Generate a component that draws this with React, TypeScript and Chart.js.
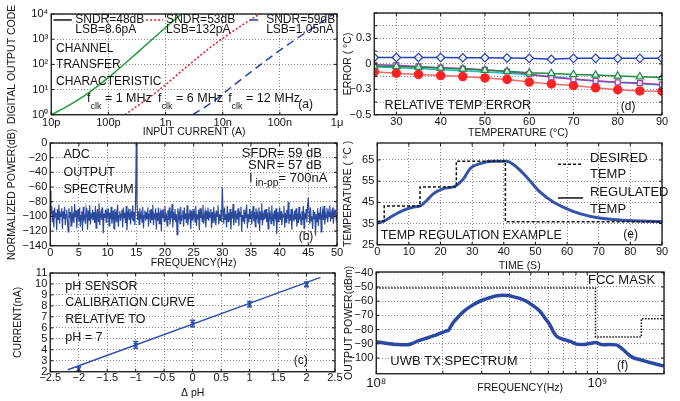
import React, { useEffect, useRef } from "react";
import { Chart, registerables } from "chart.js";

Chart.register(...registerables);

const FONT = '"Liberation Sans", Arial, sans-serif';
const INK = "#141414";
const GRID = "#8a8a8a";

// ---------- (a) channel transfer characteristic ----------
const A_X_TICKS = [1e-11, 1e-10, 1e-9, 1e-8, 1e-7, 1e-6];
const A_X_LABELS = ["10p", "100p", "1n", "10n", "100n", "1μ"];
const A_Y_TICKS = [1, 10, 100, 1000, 10000];
const A_Y_LABELS = ["10⁰", "10¹", "10²", "10³", "10⁴"];
const A_GREEN_I = [1e-11, 1.8e-11, 3.6e-11, 1.2e-10, 3.6e-10, 1.05e-9, 1.9e-9];
const A_GREEN_CODE = [1, 2.0, 5.2, 42, 370, 3200, 10000];
const A_RED_I = [1.95e-10, 7.1e-10, 2.35e-9, 6.9e-9, 2.0e-8, 4.4e-8];
const A_RED_CODE = [1, 8.3, 81, 590, 3150, 10000];
const A_BLUE_I = [3.0e-9, 6.9e-9, 1.35e-8, 5.9e-8, 1.5e-7, 5.0e-7, 8.7e-7];
const A_BLUE_CODE = [1, 3.4, 11.5, 150, 690, 4300, 10000];

// ---------- (b) ADC output spectrum ----------
const B_X_TICKS = [0, 5, 10, 15, 20, 25, 30, 35, 40, 45, 50];
const B_X_LABELS = ["0", "5", "10", "15", "20", "25", "30", "35", "40", "45", "50"];
const B_Y_TICKS = [-140, -120, -100, -80, -60, -40, -20, 0];
const B_Y_LABELS = ["−140", "−120", "−100", "−80", "−60", "−40", "−20", "0"];
const B_BIN_HZ = 0.125;
const B_POWER = [
  -65, -97, -86, -108, -92, -115, -88, -101, -95, -119, -90, -104, -84, -110, -96, -100, -89, -117, -93, -103,
  -87, -112, -98, -91, -106, -121, -89, -102, -94, -113, -86, -105, -99, -109, -83, -101, -92, -116, -97, -90,
  -107, -88, -114, -99, -93, -120, -87, -103, -100, -110, -89, -95, -118, -92, -106, -85, -111, -98, -101, -91,
  -104, -94, -109, -86, -116, -97, -90, -107, -82, -112, -99, -93, -105, -88, -123, -96, -102, -91, -108, -94,
  -98, -89, -113, -95, -104, -87, -110, -100, -92, -117, -90, -103, -96, -108, -84, -114, -99, -93, -106, -97,
  -91, -115, -88, -102, -95, -109, -86, -119, -98, -93, -104, -90, -111, -96, -100, -85, -107, -94, -112, -81,
  0, -79, -105, -93, -111, -89, -101, -96, -108, -87, -116, -99, -92, -106, -94, -103, -88, -114, -97, -91,
  -109, -90, -104, -84, -112, -98, -101, -89, -118, -95, -106, -88, -110, -97, -93, -120, -91, -102, -95, -107,
  -86, -103, -99, -113, -92, -105, -88, -111, -96, -100, -83, -115, -94, -104, -90, -108, -97, -125, -89, -102,
  -95, -110, -87, -106, -99, -92, -114, -88, -103, -96, -109, -85, -112, -98, -101, -91, -117, -93, -105, -90,
  -100, -94, -108, -86, -113, -97, -104, -91, -119, -89, -102, -95, -107, -84, -110, -99, -93, -115, -92, -103,
  -88, -106, -96, -101, -90, -116, -94, -109, -87, -104, -98, -112, -92, -100, -85, -111, -97, -105, -91, -108,
  -60, -93, -110, -88, -104, -97, -115, -86, -107, -95, -101, -90, -118, -94, -103, -83, -112, -99, -92, -109,
  -96, -104, -89, -113, -93, -100, -87, -121, -98, -106, -91, -110, -95, -102, -84, -116, -97, -108, -90, -103,
  -92, -111, -99, -86, -107, -94, -114, -89, -101, -96, -109, -88, -120, -93, -104, -82, -112, -98, -105, -91,
  -103, -90, -108, -95, -117, -87, -102, -97, -110, -85, -106, -99, -113, -92, -100, -89, -124, -94, -107, -96,
  -88, -105, -93, -112, -98, -101, -86, -115, -95, -108, -91, -103, -80, -110, -97, -106, -90, -118, -94, -100,
  -107, -92, -104, -89, -114, -96, -109, -87, -102, -99, -111, -93, -105, -86, -116, -98, -101, -90, -108, -84,
  -75, -95, -110, -88, -106, -100, -117, -91, -103, -94, -126, -97, -108, -89, -113, -95, -104, -87, -121, -99,
  -92, -105, -86, -111, -97, -102, -89, -108, -94, -100, -85, -107, -96, -103, -88, -110, -93, -99, -91, -104,
  -97,
];

// ---------- (c) pH sensor calibration ----------
const C_X_TICKS = [-2.5, -2, -1.5, -1, -0.5, 0, 0.5, 1, 1.5, 2, 2.5];
const C_X_LABELS = ["−2.5", "−2", "−1.5", "−1", "−0.5", "0", "0.5", "1", "1.5", "2", "2.5"];
const C_Y_TICKS = [2, 3, 4, 5, 6, 7, 8, 9, 10, 11];
const C_Y_LABELS = ["2", "3", "4", "5", "6", "7", "8", "9", "10", "11"];
const C_DPH = [-2, -1, 0, 1, 2];
const C_CURRENT = [2.25, 4.45, 6.4, 8.15, 9.97];
const C_ERR = [0.18, 0.3, 0.3, 0.25, 0.22];
const C_FIT_X = [-2.19, 2.245];
const C_FIT_Y = [2.18, 10.6];

// ---------- (d) relative temperature error ----------
const D_X_TICKS = [30, 40, 50, 60, 70, 80, 90];
const D_X_LABELS = ["30", "40", "50", "60", "70", "80", "90"];
const D_Y_TICKS = [-0.6, -0.45, -0.3, -0.15, 0, 0.15, 0.3, 0.45, 0.6];
const D_Y_LABELS = ["−0.5", "", "−0.3", "", "0", "", "0.3", "", ""];
const D_TEMP = [25, 30, 35, 40, 45, 50, 55, 60, 65, 70, 75, 80, 85, 90];
const D_BLUE = [0.075, 0.075, 0.075, 0.075, 0.072, 0.072, 0.07, 0.065, 0.055, 0.065, 0.065, 0.065, 0.065, 0.065];
const D_RED = [-0.094, -0.11, -0.124, -0.138, -0.15, -0.166, -0.184, -0.215, -0.237, -0.256, -0.282, -0.305, -0.32, -0.323];
const D_GREEN = [-0.025, -0.03, -0.04, -0.05, -0.06, -0.075, -0.088, -0.105, -0.113, -0.124, -0.132, -0.143, -0.151, -0.162];
const D_PURPLE = [-0.01, -0.015, -0.03, -0.045, -0.055, -0.07, -0.09, -0.12, -0.158, -0.18, -0.2, -0.218, -0.226, -0.245];
const D_CYAN = [-0.035, -0.045, -0.055, -0.068, -0.08, -0.095, -0.11, -0.13, -0.15, -0.175, -0.205, -0.22, -0.235, -0.25];

// ---------- (e) temperature regulation ----------
const E_X_TICKS = [0, 10, 20, 30, 40, 50, 60, 70, 80, 90];
const E_X_LABELS = ["0", "10", "20", "30", "40", "50", "60", "70", "80", "90"];
const E_Y_TICKS = [25, 35, 45, 55, 65];
const E_Y_LABELS = ["25", "35", "45", "55", "65"];
const E_SET_T = [0, 2.2, 13.5, 25, 40.5, 90];
const E_SET_V = [36.1, 43.3, 52.3, 64.4, 35.8, 35.8];
const E_T = [0, 2.1, 5.2, 8.4, 11.5, 13.6, 15.7, 17.8, 20.9, 24.6, 27.3, 29.4, 32.5, 36.7, 40.9, 44, 47.2, 51.4, 55.6, 59.8, 64, 70.2, 77.6, 90];
const E_REG = [35.2, 36.1, 38.9, 41.3, 42.8, 43.3, 46, 49.1, 51.5, 52.6, 56.2, 61, 63.3, 64.4, 64.4, 61.7, 57, 49.9, 45.2, 42.1, 39.7, 37.6, 36.6, 35.9];

// ---------- (f) UWB TX spectrum ----------
const F_X_TICKS = [1e8, 2e8, 3e8, 4e8, 5e8, 6e8, 7e8, 8e8, 9e8, 1e9, 2e9];
const F_X_LABELS = ["10⁸", "", "", "", "", "", "", "", "", "10⁹", ""];
const F_Y_TICKS = [-100, -90, -80, -70, -60, -50, -40];
const F_Y_LABELS = ["−100", "−90", "−80", "−70", "−60", "−50", "−40"];
const F_MHZ = [100, 110, 125, 137, 145, 152, 165, 181, 195, 208, 212, 216, 223, 235, 247, 265, 284, 305, 332, 350, 374, 395, 415, 445, 478, 510, 548, 580, 608, 630, 652, 690, 723, 760, 802, 860, 920, 986, 1020, 1057, 1130, 1213, 1260, 1300, 1370, 1442, 1550, 1656, 1800, 1968, 2000];
const F_DBM = [-88.5, -89.5, -90.5, -90.7, -89.8, -88.4, -86.5, -84.4, -82.5, -80.9, -80.5, -78.5, -75, -71, -67.5, -64, -61.2, -59, -57.2, -56.2, -55.8, -56, -56.8, -58, -60, -63, -66.9, -72, -76.3, -81, -84.4, -86.5, -87.4, -88.5, -90.2, -90.5, -89.7, -89.1, -90, -90.7, -90.5, -90.7, -92, -93.7, -97, -99.5, -101, -102.3, -103.8, -105.3, -105.5];
const F_MASK_MHZ = [100, 980, 1580, 2000];
const F_MASK_DBM = [-50.7, -85.1, -72.3, -72.3];

// ---------- helpers ----------
type Part = { t: string; s?: number; dy?: number };
type Note = { fx: number; fy: number; text: string | Part[]; size: number; align?: CanvasTextAlign };
type LegendLine = { fx1: number; fx2: number; fy: number; color: string; dash: number[]; width: number };
type AxisSpec = {
  type: "linear" | "logarithmic";
  min: number;
  max: number;
  ticks: number[];
  labels: string[];
  title: string;
  tickSize: number;
  pad: number;
};
type PanelSpec = {
  area: { l: number; t: number; r: number; b: number };
  titleX: number;
  titleY: number;
  x: AxisSpec;
  y: AxisSpec;
  datasets: any[];
  notes: Note[];
  legend?: LegendLine[];
  errorBars?: { x: number[]; y: number[]; e: number[]; color: string };
};

const TITLE_SIZE = 10.5;
const PAD_T = 14;
const PAD_R = 14;

function pts(xs: number[], ys: number[], k = 1) {
  return xs.map((x, i) => ({ x: x * k, y: ys[i] }));
}

function lineDs(data: any[], color: string, width: number, dash: number[] = [], extra: any = {}) {
  return {
    data,
    borderColor: color,
    backgroundColor: color,
    borderWidth: width,
    borderDash: dash,
    pointRadius: 0,
    tension: 0,
    fill: false,
    ...extra,
  };
}

function drawRich(ctx: CanvasRenderingContext2D, x: number, y: number, text: string | Part[], size: number, align: CanvasTextAlign) {
  const parts: Part[] = typeof text === "string" ? [{ t: text }] : text;
  const segs = parts.map((p) => {
    const fs = size * (p.s ?? 1);
    ctx.font = `${fs}px ${FONT}`;
    return { ...p, fs, w: ctx.measureText(p.t).width };
  });
  const total = segs.reduce((a, b) => a + b.w, 0);
  let cx = align === "center" ? x - total / 2 : align === "right" ? x - total : x;
  ctx.textAlign = "left";
  ctx.textBaseline = "middle";
  for (const sg of segs) {
    ctx.font = `${sg.fs}px ${FONT}`;
    ctx.fillText(sg.t, cx, y + size * (sg.dy ?? 0));
    cx += sg.w;
  }
}

function makeScale(o: AxisSpec, horizontal: boolean, size: number) {
  return {
    type: o.type,
    min: o.min,
    max: o.max,
    afterBuildTicks: (s: any) => {
      s.ticks = o.ticks.map((v) => ({ value: v }));
    },
    afterFit: (s: any) => {
      if (horizontal) s.height = size;
      else s.width = size;
    },
    grid: { color: GRID, lineWidth: 1, drawTicks: false },
    border: { display: false, dash: [1, 2] },
    ticks: {
      autoSkip: false,
      maxRotation: 0,
      minRotation: 0,
      padding: o.pad,
      color: INK,
      font: { family: FONT, size: o.tickSize, lineHeight: 1 },
      callback: (_v: any, i: number) => o.labels[i],
    },
    title: {
      display: true,
      text: o.title,
      color: INK,
      padding: 0,
      font: { family: FONT, size: TITLE_SIZE, lineHeight: 1 },
    },
  };
}

function decorPlugin(spec: PanelSpec) {
  return {
    id: "decor",
    afterDatasetsDraw(chart: any) {
      const { ctx, chartArea: a, scales } = chart;
      const xs = scales.x;
      const ys = scales.y;
      const w = a.right - a.left;
      const h = a.bottom - a.top;
      ctx.save();
      if (spec.errorBars) {
        const eb = spec.errorBars;
        ctx.strokeStyle = eb.color;
        ctx.lineWidth = 1.5;
        ctx.beginPath();
        eb.x.forEach((xv, i) => {
          const px = xs.getPixelForValue(xv);
          const p1 = ys.getPixelForValue(eb.y[i] - eb.e[i]);
          const p2 = ys.getPixelForValue(eb.y[i] + eb.e[i]);
          ctx.moveTo(px, p1);
          ctx.lineTo(px, p2);
          ctx.moveTo(px - 2.5, p1);
          ctx.lineTo(px + 2.5, p1);
          ctx.moveTo(px - 2.5, p2);
          ctx.lineTo(px + 2.5, p2);
        });
        ctx.stroke();
      }
      ctx.strokeStyle = INK;
      ctx.lineWidth = 1;
      ctx.setLineDash([]);
      ctx.beginPath();
      for (const t of xs.ticks) {
        const px = xs.getPixelForValue(t.value);
        ctx.moveTo(px, a.bottom);
        ctx.lineTo(px, a.bottom - 3);
        ctx.moveTo(px, a.top);
        ctx.lineTo(px, a.top + 3);
      }
      for (const t of ys.ticks) {
        const py = ys.getPixelForValue(t.value);
        ctx.moveTo(a.left, py);
        ctx.lineTo(a.left + 3, py);
        ctx.moveTo(a.right, py);
        ctx.lineTo(a.right - 3, py);
      }
      ctx.stroke();
      ctx.lineWidth = 1.3;
      ctx.strokeRect(a.left, a.top, w, h);
      for (const lg of spec.legend ?? []) {
        ctx.strokeStyle = lg.color;
        ctx.lineWidth = lg.width;
        ctx.setLineDash(lg.dash);
        ctx.beginPath();
        const py = a.top + lg.fy * h;
        ctx.moveTo(a.left + lg.fx1 * w, py);
        ctx.lineTo(a.left + lg.fx2 * w, py);
        ctx.stroke();
      }
      ctx.setLineDash([]);
      ctx.fillStyle = INK;
      for (const n of spec.notes) {
        drawRich(ctx, a.left + n.fx * w, a.top + n.fy * h, n.text, n.size, n.align ?? "left");
      }
      ctx.restore();
    },
  };
}

function Panel({ spec }: { spec: PanelSpec }) {
  const ref = useRef<HTMLCanvasElement>(null);
  const { area } = spec;
  const left = spec.titleX - TITLE_SIZE / 2;
  const top = area.t - PAD_T;
  const right = area.r + PAD_R;
  const bottom = spec.titleY + TITLE_SIZE / 2;
  const W = Math.round(right - left);
  const H = Math.round(bottom - top);
  useEffect(() => {
    const chart = new Chart(ref.current as HTMLCanvasElement, {
      type: "line",
      data: { datasets: spec.datasets },
      options: {
        responsive: false,
        animation: false,
        events: [],
        layout: { padding: { top: PAD_T, right: PAD_R, left: 0, bottom: 0 } },
        plugins: { legend: { display: false }, tooltip: { enabled: false } },
        scales: {
          x: makeScale(spec.x, true, bottom - area.b),
          y: makeScale(spec.y, false, area.l - left),
        },
      } as any,
      plugins: [decorPlugin(spec)],
    });
    return () => chart.destroy();
  }, []);
  return (
    <canvas
      ref={ref}
      width={W}
      height={H}
      style={{ position: "absolute", left, top, width: W, height: H }}
    />
  );
}

// ---------- panel specs ----------
const clk = (rest: string): Part[] => [{ t: "f" }, { t: "clk", s: 0.72, dy: 0.7 }, { t: rest }];

const PANEL_A: PanelSpec = {
  area: { l: 51, t: 14, r: 337, b: 115 },
  titleX: 12,
  titleY: 132,
  x: { type: "logarithmic", min: 1e-11, max: 1e-6, ticks: A_X_TICKS, labels: A_X_LABELS, title: "INPUT CURRENT (A)", tickSize: 11, pad: 3 },
  y: { type: "logarithmic", min: 1, max: 1e4, ticks: A_Y_TICKS, labels: A_Y_LABELS, title: "DIGITAL OUTPUT CODE", tickSize: 11, pad: 3 },
  datasets: [
    lineDs(pts(A_GREEN_I, A_GREEN_CODE), "#1f9e3c", 1.5, [], { cubicInterpolationMode: "monotone" }),
    lineDs(pts(A_RED_I, A_RED_CODE), "#e8262b", 1.6, [2, 2], { cubicInterpolationMode: "monotone" }),
    lineDs(pts(A_BLUE_I, A_BLUE_CODE), "#2340a8", 1.5, [8, 5], { cubicInterpolationMode: "monotone" }),
  ],
  legend: [
    { fx1: 0.008, fx2: 0.072, fy: 0.059, color: INK, dash: [], width: 1.5 },
    { fx1: 0.332, fx2: 0.392, fy: 0.059, color: "#e8262b", dash: [2, 2], width: 1.6 },
    { fx1: 0.696, fx2: 0.741, fy: 0.059, color: "#2340a8", dash: [8, 5], width: 1.5 },
  ],
  notes: [
    { fx: 0.084, fy: 0.059, text: "SNDR=48dB", size: 12 },
    { fx: 0.084, fy: 0.158, text: "LSB=8.6pA", size: 12 },
    { fx: 0.402, fy: 0.059, text: "SNDR=53dB", size: 12 },
    { fx: 0.402, fy: 0.158, text: "LSB=132pA", size: 12 },
    { fx: 0.752, fy: 0.059, text: "SNDR=59dB", size: 12 },
    { fx: 0.752, fy: 0.158, text: "LSB=1.05nA", size: 12 },
    { fx: 0.017, fy: 0.34, text: "CHANNEL", size: 12 },
    { fx: 0.017, fy: 0.505, text: "TRANSFER", size: 12 },
    { fx: 0.017, fy: 0.67, text: "CHARACTERISTIC", size: 12 },
    { fx: 0.125, fy: 0.835, text: clk(" = 1 MHz"), size: 12.5 },
    { fx: 0.374, fy: 0.835, text: clk(" = 6 MHz"), size: 12.5 },
    { fx: 0.619, fy: 0.835, text: clk(" = 12 MHz"), size: 12.5 },
    { fx: 0.89, fy: 0.9, text: "(a)", size: 12, align: "center" },
  ],
};

const PANEL_B: PanelSpec = {
  area: { l: 50, t: 143, r: 337, b: 246 },
  titleX: 12,
  titleY: 263,
  x: { type: "linear", min: 0, max: 50, ticks: B_X_TICKS, labels: B_X_LABELS, title: "FREQUENCY(Hz)", tickSize: 11, pad: 2 },
  y: { type: "linear", min: -140, max: 0, ticks: B_Y_TICKS, labels: B_Y_LABELS, title: "NORMALIZED POWER(dB)", tickSize: 11, pad: 3 },
  datasets: [
    lineDs(B_POWER.map((v, i) => ({ x: i * B_BIN_HZ, y: v })), "#2b4a9e", 1.2),
  ],
  notes: [
    { fx: 0.046, fy: 0.117, text: "ADC", size: 12.5 },
    { fx: 0.046, fy: 0.285, text: "OUTPUT", size: 12.5 },
    { fx: 0.046, fy: 0.45, text: "SPECTRUM", size: 12.5 },
    { fx: 0.668, fy: 0.1, text: "SFDR", size: 13 },
    { fx: 0.79, fy: 0.1, text: "= 59 dB", size: 13 },
    { fx: 0.69, fy: 0.214, text: "SNR", size: 13 },
    { fx: 0.79, fy: 0.214, text: "= 57 dB", size: 13 },
    { fx: 0.693, fy: 0.343, text: [{ t: "I" }, { t: " in-pp", s: 0.8, dy: 0.4 }, { t: "= 700nA" }], size: 13 },
    { fx: 0.892, fy: 0.915, text: "(b)", size: 12, align: "center" },
  ],
};

const PANEL_C: PanelSpec = {
  area: { l: 50, t: 273, r: 335, b: 372 },
  titleX: 18,
  titleY: 393,
  x: { type: "linear", min: -2.5, max: 2.5, ticks: C_X_TICKS, labels: C_X_LABELS, title: "Δ pH", tickSize: 11, pad: 1 },
  y: { type: "linear", min: 2, max: 11, ticks: C_Y_TICKS, labels: C_Y_LABELS, title: "CURRENT(nA)", tickSize: 11, pad: 3 },
  datasets: [
    lineDs(pts(C_FIT_X, C_FIT_Y), "#2f4fb0", 1.5),
    lineDs(pts(C_DPH, C_CURRENT), "#2f4fb0", 1.5, [], { showLine: false, pointRadius: 2.5, pointStyle: "crossRot", pointBorderWidth: 1.5 }),
  ],
  errorBars: { x: C_DPH, y: C_CURRENT, e: C_ERR, color: "#2f4fb0" },
  notes: [
    { fx: 0.053, fy: 0.138, text: "pH SENSOR", size: 12.5 },
    { fx: 0.053, fy: 0.3, text: "CALIBRATION CURVE", size: 12.5 },
    { fx: 0.053, fy: 0.468, text: "RELATIVE TO", size: 12.5 },
    { fx: 0.053, fy: 0.65, text: "pH = 7", size: 12.5 },
    { fx: 0.88, fy: 0.886, text: "(c)", size: 12, align: "center" },
  ],
};

const openMarker = (style: string, color: string, r: number) => ({
  pointStyle: style,
  pointRadius: r,
  pointBorderColor: color,
  pointBackgroundColor: "rgba(255,255,255,0.85)",
  pointBorderWidth: 1.2,
});

const PANEL_D: PanelSpec = {
  area: { l: 374, t: 13, r: 662, b: 115 },
  titleX: 348,
  titleY: 133,
  x: { type: "linear", min: 25, max: 90, ticks: D_X_TICKS, labels: D_X_LABELS, title: "TEMPERATURE (°C)", tickSize: 11, pad: 2 },
  y: { type: "linear", min: -0.6, max: 0.6, ticks: D_Y_TICKS, labels: D_Y_LABELS, title: "ERROR ( °C)", tickSize: 11, pad: 3 },
  datasets: [
    lineDs(pts(D_TEMP, D_BLUE), "#2442b5", 1.5, [], openMarker("rectRot", "#2442b5", 4.2)),
    lineDs(pts(D_TEMP, D_GREEN), "#1e8a45", 1.5, [], openMarker("triangle", "#1e8a45", 4.2)),
    lineDs(pts(D_TEMP, D_PURPLE), "#a23ca8", 1.5, [], openMarker("rect", "#a23ca8", 3.5)),
    lineDs(pts(D_TEMP, D_CYAN), "#1fbfc4", 1.5),
    lineDs(pts(D_TEMP, D_RED), "#f06868", 1.5, [], { pointStyle: "circle", pointRadius: 4, pointBackgroundColor: "#ff2222", pointBorderColor: "#ff2222" }),
  ],
  notes: [
    { fx: 0.036, fy: 0.912, text: "RELATIVE TEMP ERROR", size: 12.5 },
    { fx: 0.882, fy: 0.918, text: "(d)", size: 12, align: "center" },
  ],
};

const PANEL_E: PanelSpec = {
  area: { l: 377, t: 143, r: 662, b: 245 },
  titleX: 348,
  titleY: 266,
  x: { type: "linear", min: 0, max: 90, ticks: E_X_TICKS, labels: E_X_LABELS, title: "TIME (S)", tickSize: 11, pad: 2 },
  y: { type: "linear", min: 25, max: 73, ticks: E_Y_TICKS, labels: E_Y_LABELS, title: "TEMPERATURE ( °C )", tickSize: 11, pad: 3 },
  datasets: [
    lineDs(pts(E_SET_T, E_SET_V), "#111111", 1.5, [3, 2], { stepped: true }),
    lineDs(pts(E_T, E_REG), "#3553a8", 3, [], { cubicInterpolationMode: "monotone" }),
  ],
  legend: [
    { fx1: 0.635, fx2: 0.723, fy: 0.21, color: "#111111", dash: [3, 2], width: 1.5 },
    { fx1: 0.635, fx2: 0.723, fy: 0.54, color: "#111111", dash: [], width: 1.5 },
  ],
  notes: [
    { fx: 0.747, fy: 0.15, text: "DESIRED", size: 13 },
    { fx: 0.747, fy: 0.307, text: "TEMP", size: 13 },
    { fx: 0.747, fy: 0.49, text: "REGULATED", size: 13 },
    { fx: 0.747, fy: 0.65, text: "TEMP", size: 13 },
    { fx: 0.012, fy: 0.905, text: "TEMP REGULATION EXAMPLE", size: 12.5 },
    { fx: 0.89, fy: 0.9, text: "(e)", size: 12, align: "center" },
  ],
};

const PANEL_F: PanelSpec = {
  area: { l: 376, t: 272, r: 664, b: 374 },
  titleX: 349,
  titleY: 388,
  x: { type: "logarithmic", min: 1e8, max: 2e9, ticks: F_X_TICKS, labels: F_X_LABELS, title: "FREQUENCY(Hz)", tickSize: 13, pad: 3 },
  y: { type: "linear", min: -111, max: -39.5, ticks: F_Y_TICKS, labels: F_Y_LABELS, title: "OUTPUT POWER(dBm)", tickSize: 11, pad: 3 },
  datasets: [
    lineDs(pts(F_MASK_MHZ, F_MASK_DBM, 1e6), "#111111", 1.5, [1.5, 1.5], { stepped: true }),
    lineDs(pts(F_MHZ, F_DBM, 1e6), "#2c48a5", 3.5, [], { cubicInterpolationMode: "monotone" }),
  ],
  notes: [
    { fx: 0.736, fy: 0.078, text: "FCC MASK", size: 13 },
    { fx: 0.049, fy: 0.876, text: "UWB TX SPECTRUM", size: 13 },
    { fx: 0.856, fy: 0.925, text: "(f)", size: 12, align: "center" },
  ],
};

const PANELS = [PANEL_A, PANEL_B, PANEL_C, PANEL_D, PANEL_E, PANEL_F];

export default function App() {
  return (
    <div style={{ position: "absolute", left: 0, top: 0, width: 680, height: 401, background: "#fff", overflow: "hidden" }}>
      {PANELS.map((p, i) => (
        <Panel key={i} spec={p} />
      ))}
    </div>
  );
}
